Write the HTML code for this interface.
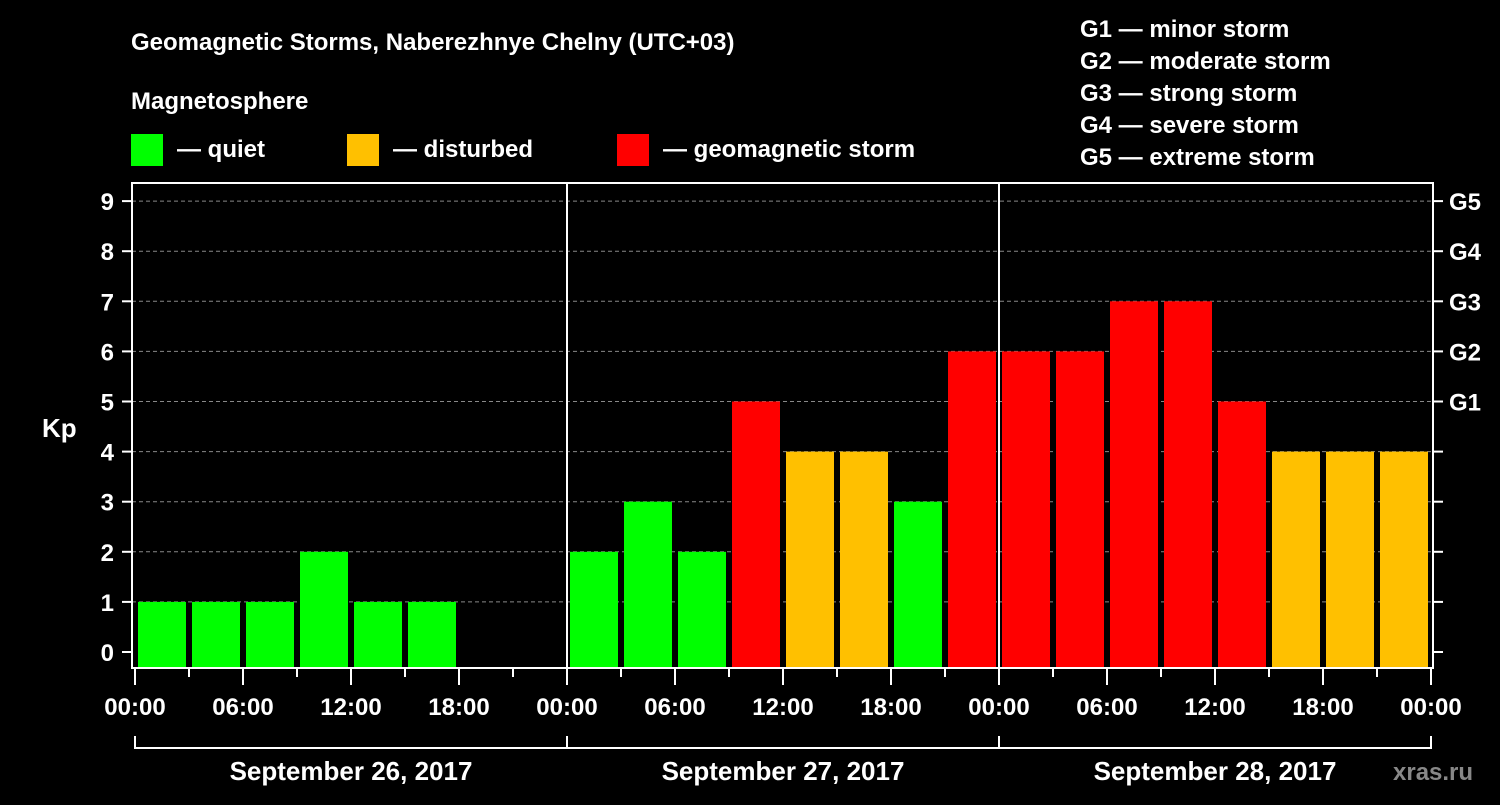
<!DOCTYPE html>
<html><head><meta charset="utf-8"><style>
html,body{margin:0;padding:0;background:#000;}
svg text{font-family:"Liberation Sans",Arial,sans-serif;font-weight:bold;fill:#fff;}
</style></head><body>
<svg id="c" width="1500" height="800" xmlns="http://www.w3.org/2000/svg">
<rect width="1500" height="800" fill="#000"/>
<text x="131" y="50" font-size="24">Geomagnetic Storms, Naberezhnye Chelny (UTC+03)</text>
<text x="131" y="109" font-size="24">Magnetosphere</text>
<rect x="131" y="134" width="32" height="32" fill="#00ff00"/>
<text x="177" y="157" font-size="24">— quiet</text>
<rect x="347" y="134" width="32" height="32" fill="#ffc000"/>
<text x="393" y="157" font-size="24">— disturbed</text>
<rect x="617" y="134" width="32" height="32" fill="#ff0000"/>
<text x="663" y="157" font-size="24">— geomagnetic storm</text>
<g font-size="24">
<text x="1080" y="37">G1 — minor storm</text>
<text x="1080" y="69">G2 — moderate storm</text>
<text x="1080" y="101">G3 — strong storm</text>
<text x="1080" y="133">G4 — severe storm</text>
<text x="1080" y="165">G5 — extreme storm</text>
</g>
<text x="42" y="437" font-size="26">Kp</text>
<text x="1393" y="780" font-size="24" style="fill:#888">xras.ru</text>
<g id="grid"></g><g id="bars"></g><g id="axes"></g>
</svg>
<script>
const dayLabels=["September 26, 2017","September 27, 2017","September 28, 2017"];
const hourLabels=["00:00","06:00","12:00","18:00"];
const kpValues=[1,1,1,2,1,1,null,null, 2,3,2,5,4,4,3,6, 6,6,7,7,5,4,4,4];
const yTicks=[0,1,2,3,4,5,6,7,8,9];
const gLabels=["","","","","","G1","G2","G3","G4","G5"];
const NS="http://www.w3.org/2000/svg";
const L=132,R=1433,T=183,B=668,X0=135,PXH=18;
const y=v=>652-v*50.1;
const x=h=>X0+h*PXH;
function mk(t,a,p){const e=document.createElementNS(NS,t);for(const k in a)e.setAttribute(k,a[k]);document.getElementById(p).appendChild(e);return e;}
yTicks.forEach(v=>{
 if(v>0){const g=mk('line',{x1:L,x2:R,y1:y(v),y2:y(v),stroke:'#888','stroke-dasharray':'4,3','stroke-width':1},'grid');
 
 }
 mk('line',{x1:122,x2:L,y1:y(v),y2:y(v),stroke:'#fff','stroke-width':2},'axes');
 mk('line',{x1:R,x2:1443,y1:y(v),y2:y(v),stroke:'#fff','stroke-width':2},'axes');
 const t=mk('text',{x:114,y:y(v)+9,'font-size':24,'text-anchor':'end'},'axes');t.textContent=v;
 
 
 if(gLabels[v]){const g2=mk('text',{x:1449,y:y(v)+9,'font-size':24},'axes');g2.textContent=gLabels[v];
 
 }
});
kpValues.forEach((v,i)=>{
 if(v==null)return;
 const c=v>=5?'#ff0000':(v>=4?'#ffc000':'#00ff00');
 const b=mk('rect',{x:x(i*3)+3,y:y(v),width:48,height:B-y(v),fill:c},'bars');
 
 
});
mk('rect',{x:L,y:T,width:R-L,height:B-T,fill:'none',stroke:'#fff','stroke-width':2},'axes');
[1,2].forEach(d=>mk('line',{x1:x(d*24),x2:x(d*24),y1:T,y2:B,stroke:'#fff','stroke-width':2},'axes'));
for(let h=0;h<=72;h+=3){
 const major=h%6===0;
 mk('line',{x1:x(h),x2:x(h),y1:B,y2:B+(major?17:9),stroke:'#fff','stroke-width':2},'axes');
 if(major){const t=mk('text',{x:x(h),y:715,'font-size':24,'text-anchor':'middle'},'axes');t.textContent=hourLabels[(h/6)%4];
 
 }
}
mk('line',{x1:x(0),x2:x(72),y1:748,y2:748,stroke:'#fff','stroke-width':2},'axes');
dayLabels.forEach((d,i)=>{
 const t=mk('text',{x:x(i*24+12),y:780,'font-size':26,'text-anchor':'middle'},'axes');t.textContent=d;
 
 
});
for(let d=0;d<=3;d++)mk('line',{x1:x(d*24),x2:x(d*24),y1:736,y2:749,stroke:'#fff','stroke-width':2},'axes');
</script>
</body></html>
